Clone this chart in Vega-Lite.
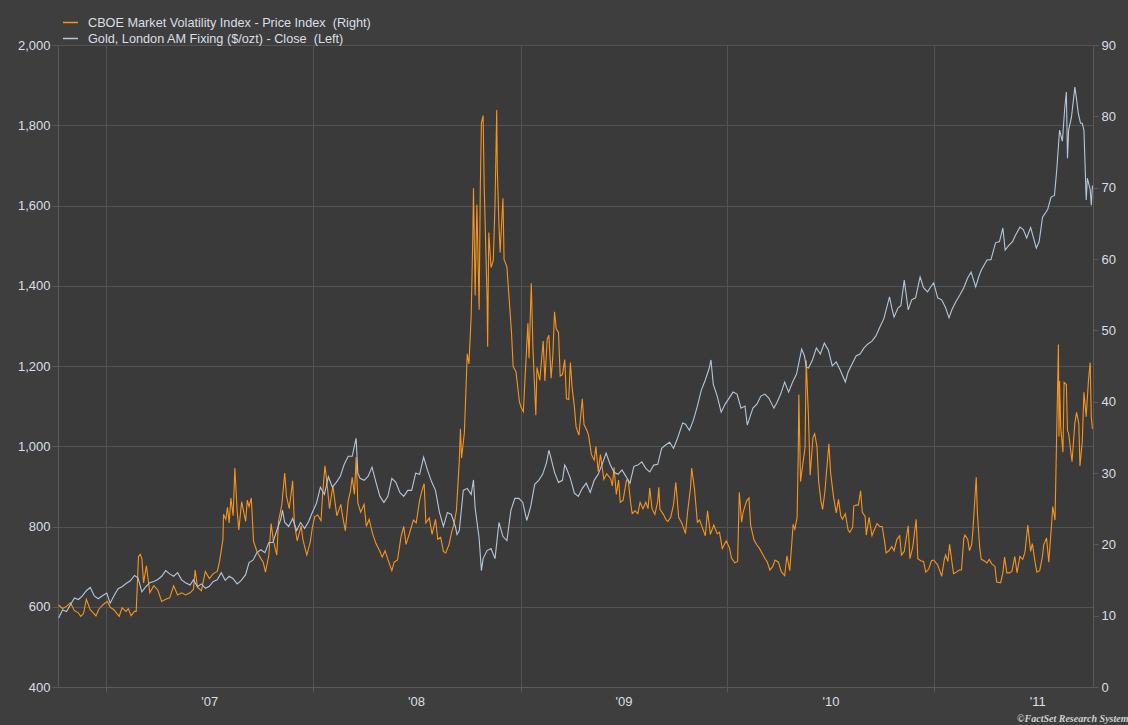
{
"$schema": "https://vega.github.io/schema/vega-lite/v6.json",
"width": 1035,
"height": 642,
"autosize": {"type": "none"},
"padding": {"left": 58, "top": 45, "right": 35, "bottom": 38},
"background": "#3e3e3e",
"config": {
  "view": {"fill": "#3a3a3a", "stroke": null},
  "font": "Liberation Sans",
  "axis": {"labelColor": "#dadfe6", "labelFontSize": 13, "title": null, "gridColor": "#535353", "tickColor": "#5a5a5a", "domainColor": "#5a5a5a", "labelFont": "Liberation Sans"}
},
"title": {"text": "©FactSet Research System", "orient": "bottom", "anchor": "end", "font": "Liberation Serif", "fontSize": 10, "fontStyle": "italic", "fontWeight": "bold", "color": "#d0d0d0", "offset": 6, "dx": 13},
"datasets": {
"vix": [
{"date":"2006-10-09","value":11.5},{"date":"2006-10-16","value":11.0},{"date":"2006-10-23","value":11.3},{"date":"2006-10-30","value":11.8},{"date":"2006-11-06","value":10.7},{"date":"2006-11-13","value":10.4},{"date":"2006-11-17","value":9.9},{"date":"2006-11-22","value":10.3},{"date":"2006-11-27","value":12.3},{"date":"2006-12-04","value":10.8},{"date":"2006-12-08","value":10.5},{"date":"2006-12-14","value":9.97},{"date":"2006-12-19","value":10.9},{"date":"2006-12-26","value":11.5},{"date":"2007-01-03","value":12.0},{"date":"2007-01-08","value":11.2},{"date":"2007-01-15","value":10.8},{"date":"2007-01-19","value":10.4},{"date":"2007-01-24","value":9.9},{"date":"2007-01-29","value":11.1},{"date":"2007-02-05","value":10.6},{"date":"2007-02-09","value":11.0},{"date":"2007-02-14","value":10.0},{"date":"2007-02-20","value":10.6},{"date":"2007-02-23","value":10.6},{"date":"2007-02-27","value":18.3},{"date":"2007-03-02","value":18.6},{"date":"2007-03-05","value":18.0},{"date":"2007-03-08","value":14.6},{"date":"2007-03-13","value":17.0},{"date":"2007-03-19","value":13.2},{"date":"2007-03-26","value":14.2},{"date":"2007-04-02","value":13.6},{"date":"2007-04-09","value":12.0},{"date":"2007-04-16","value":12.3},{"date":"2007-04-23","value":12.5},{"date":"2007-04-30","value":14.2},{"date":"2007-05-07","value":12.9},{"date":"2007-05-14","value":13.2},{"date":"2007-05-21","value":12.9},{"date":"2007-05-29","value":13.2},{"date":"2007-06-04","value":13.7},{"date":"2007-06-07","value":16.4},{"date":"2007-06-11","value":14.0},{"date":"2007-06-18","value":13.5},{"date":"2007-06-25","value":16.2},{"date":"2007-07-02","value":15.2},{"date":"2007-07-09","value":15.9},{"date":"2007-07-16","value":16.2},{"date":"2007-07-20","value":17.6},{"date":"2007-07-26","value":20.7},{"date":"2007-07-27","value":24.2},{"date":"2007-07-31","value":23.5},{"date":"2007-08-03","value":25.2},{"date":"2007-08-06","value":23.0},{"date":"2007-08-09","value":26.5},{"date":"2007-08-13","value":24.0},{"date":"2007-08-16","value":30.7},{"date":"2007-08-20","value":24.8},{"date":"2007-08-23","value":22.0},{"date":"2007-08-28","value":26.0},{"date":"2007-09-04","value":23.2},{"date":"2007-09-07","value":26.2},{"date":"2007-09-10","value":25.3},{"date":"2007-09-14","value":26.5},{"date":"2007-09-18","value":20.4},{"date":"2007-09-24","value":19.0},{"date":"2007-10-01","value":18.0},{"date":"2007-10-05","value":17.5},{"date":"2007-10-09","value":16.1},{"date":"2007-10-15","value":18.5},{"date":"2007-10-19","value":22.9},{"date":"2007-10-23","value":20.5},{"date":"2007-10-29","value":18.5},{"date":"2007-11-01","value":23.2},{"date":"2007-11-07","value":25.6},{"date":"2007-11-12","value":30.0},{"date":"2007-11-15","value":26.8},{"date":"2007-11-20","value":25.0},{"date":"2007-11-26","value":28.9},{"date":"2007-11-29","value":22.9},{"date":"2007-12-04","value":20.5},{"date":"2007-12-11","value":22.6},{"date":"2007-12-14","value":20.7},{"date":"2007-12-21","value":18.5},{"date":"2007-12-27","value":20.3},{"date":"2007-12-31","value":22.5},
{"date":"2008-01-04","value":23.9},{"date":"2008-01-09","value":24.1},{"date":"2008-01-15","value":23.3},{"date":"2008-01-18","value":27.2},{"date":"2008-01-22","value":31.0},{"date":"2008-01-25","value":29.0},{"date":"2008-01-30","value":25.0},{"date":"2008-02-05","value":28.2},{"date":"2008-02-08","value":26.3},{"date":"2008-02-12","value":24.0},{"date":"2008-02-19","value":25.6},{"date":"2008-02-22","value":24.0},{"date":"2008-02-27","value":21.9},{"date":"2008-03-03","value":26.1},{"date":"2008-03-07","value":27.5},{"date":"2008-03-10","value":29.4},{"date":"2008-03-14","value":27.0},{"date":"2008-03-17","value":32.2},{"date":"2008-03-20","value":25.8},{"date":"2008-03-25","value":24.5},{"date":"2008-03-31","value":25.6},{"date":"2008-04-04","value":22.5},{"date":"2008-04-09","value":23.5},{"date":"2008-04-15","value":21.5},{"date":"2008-04-21","value":20.1},{"date":"2008-04-28","value":19.0},{"date":"2008-05-02","value":18.2},{"date":"2008-05-07","value":19.1},{"date":"2008-05-12","value":17.9},{"date":"2008-05-19","value":16.3},{"date":"2008-05-23","value":17.5},{"date":"2008-05-29","value":17.8},{"date":"2008-06-04","value":21.0},{"date":"2008-06-09","value":22.5},{"date":"2008-06-13","value":20.0},{"date":"2008-06-19","value":21.5},{"date":"2008-06-26","value":23.4},{"date":"2008-07-01","value":23.0},{"date":"2008-07-07","value":26.2},{"date":"2008-07-11","value":27.5},{"date":"2008-07-15","value":28.5},{"date":"2008-07-18","value":23.0},{"date":"2008-07-24","value":23.7},{"date":"2008-07-29","value":21.4},{"date":"2008-08-04","value":23.5},{"date":"2008-08-08","value":20.7},{"date":"2008-08-13","value":21.0},{"date":"2008-08-18","value":19.0},{"date":"2008-08-22","value":18.8},{"date":"2008-08-28","value":20.0},{"date":"2008-09-02","value":21.9},{"date":"2008-09-05","value":22.6},{"date":"2008-09-10","value":24.8},{"date":"2008-09-15","value":31.7},{"date":"2008-09-17","value":36.2},{"date":"2008-09-19","value":32.1},{"date":"2008-09-24","value":35.7},{"date":"2008-09-29","value":46.7},{"date":"2008-10-02","value":45.3},{"date":"2008-10-06","value":52.1},{"date":"2008-10-09","value":63.9},{"date":"2008-10-10","value":69.9},{"date":"2008-10-13","value":54.9},{"date":"2008-10-16","value":67.6},{"date":"2008-10-20","value":52.9},{"date":"2008-10-22","value":69.6},{"date":"2008-10-24","value":79.1},{"date":"2008-10-27","value":80.1},{"date":"2008-10-29","value":69.9},{"date":"2008-11-03","value":54.5},{"date":"2008-11-04","value":47.7},{"date":"2008-11-06","value":63.7},{"date":"2008-11-10","value":58.8},{"date":"2008-11-14","value":59.8},{"date":"2008-11-17","value":67.6},{"date":"2008-11-20","value":80.9},{"date":"2008-11-21","value":72.7},{"date":"2008-11-24","value":64.7},{"date":"2008-11-26","value":60.9},{"date":"2008-12-01","value":68.5},{"date":"2008-12-03","value":59.9},{"date":"2008-12-08","value":58.9},{"date":"2008-12-12","value":54.3},{"date":"2008-12-16","value":49.8},{"date":"2008-12-19","value":44.9},{"date":"2008-12-24","value":44.2},{"date":"2008-12-30","value":40.0},
{"date":"2009-01-02","value":39.2},{"date":"2009-01-06","value":38.6},{"date":"2009-01-09","value":43.3},{"date":"2009-01-14","value":51.0},{"date":"2009-01-16","value":46.1},{"date":"2009-01-20","value":56.6},{"date":"2009-01-23","value":47.3},{"date":"2009-01-28","value":38.1},{"date":"2009-01-30","value":44.8},{"date":"2009-02-04","value":43.0},{"date":"2009-02-10","value":48.5},{"date":"2009-02-13","value":42.9},{"date":"2009-02-17","value":48.7},{"date":"2009-02-20","value":49.3},{"date":"2009-02-24","value":43.3},{"date":"2009-02-27","value":46.4},{"date":"2009-03-02","value":52.6},{"date":"2009-03-05","value":50.2},{"date":"2009-03-09","value":49.7},{"date":"2009-03-12","value":43.6},{"date":"2009-03-16","value":43.8},{"date":"2009-03-20","value":45.9},{"date":"2009-03-23","value":40.4},{"date":"2009-03-27","value":40.3},{"date":"2009-03-30","value":45.5},{"date":"2009-04-02","value":42.0},{"date":"2009-04-06","value":39.3},{"date":"2009-04-09","value":36.5},{"date":"2009-04-14","value":35.3},{"date":"2009-04-20","value":40.4},{"date":"2009-04-23","value":36.8},{"date":"2009-04-28","value":36.0},{"date":"2009-05-01","value":35.3},{"date":"2009-05-06","value":32.6},{"date":"2009-05-11","value":31.8},{"date":"2009-05-14","value":33.7},{"date":"2009-05-18","value":30.2},{"date":"2009-05-22","value":32.6},{"date":"2009-05-28","value":29.1},{"date":"2009-06-02","value":29.9},{"date":"2009-06-05","value":29.6},{"date":"2009-06-09","value":29.2},{"date":"2009-06-12","value":28.2},{"date":"2009-06-15","value":30.8},{"date":"2009-06-19","value":27.0},{"date":"2009-06-23","value":29.0},{"date":"2009-06-26","value":25.9},{"date":"2009-07-01","value":26.2},{"date":"2009-07-07","value":29.0},{"date":"2009-07-10","value":29.0},{"date":"2009-07-14","value":26.0},{"date":"2009-07-17","value":24.3},{"date":"2009-07-22","value":24.7},{"date":"2009-07-27","value":24.3},{"date":"2009-07-31","value":25.9},{"date":"2009-08-05","value":25.0},{"date":"2009-08-10","value":25.9},{"date":"2009-08-14","value":25.0},{"date":"2009-08-17","value":27.9},{"date":"2009-08-21","value":25.0},{"date":"2009-08-26","value":24.2},{"date":"2009-08-31","value":26.0},{"date":"2009-09-02","value":28.0},{"date":"2009-09-04","value":24.9},{"date":"2009-09-10","value":24.2},{"date":"2009-09-15","value":23.4},{"date":"2009-09-18","value":23.2},{"date":"2009-09-23","value":23.8},{"date":"2009-09-28","value":25.6},{"date":"2009-10-02","value":28.7},{"date":"2009-10-07","value":23.8},{"date":"2009-10-13","value":22.9},{"date":"2009-10-19","value":21.5},{"date":"2009-10-23","value":24.7},{"date":"2009-10-28","value":28.0},{"date":"2009-10-30","value":30.7},{"date":"2009-11-04","value":27.7},{"date":"2009-11-09","value":23.1},{"date":"2009-11-13","value":23.4},{"date":"2009-11-18","value":22.3},{"date":"2009-11-23","value":21.2},{"date":"2009-11-27","value":24.7},{"date":"2009-12-02","value":21.4},{"date":"2009-12-08","value":22.7},{"date":"2009-12-14","value":21.5},{"date":"2009-12-18","value":21.7},{"date":"2009-12-23","value":19.4},{"date":"2009-12-30","value":20.5},
{"date":"2010-01-05","value":19.4},{"date":"2010-01-08","value":18.1},{"date":"2010-01-14","value":17.4},{"date":"2010-01-19","value":17.6},{"date":"2010-01-22","value":27.3},{"date":"2010-01-26","value":23.1},{"date":"2010-01-29","value":24.6},{"date":"2010-02-04","value":26.1},{"date":"2010-02-08","value":26.5},{"date":"2010-02-11","value":22.7},{"date":"2010-02-17","value":20.6},{"date":"2010-02-22","value":19.9},{"date":"2010-02-26","value":19.5},{"date":"2010-03-03","value":18.8},{"date":"2010-03-09","value":17.9},{"date":"2010-03-12","value":17.6},{"date":"2010-03-17","value":16.4},{"date":"2010-03-22","value":16.9},{"date":"2010-03-26","value":17.8},{"date":"2010-04-01","value":17.5},{"date":"2010-04-06","value":16.2},{"date":"2010-04-12","value":15.6},{"date":"2010-04-16","value":18.4},{"date":"2010-04-21","value":16.3},{"date":"2010-04-27","value":22.8},{"date":"2010-04-30","value":22.1},{"date":"2010-05-04","value":23.8},{"date":"2010-05-06","value":32.8},{"date":"2010-05-07","value":41.0},{"date":"2010-05-10","value":28.8},{"date":"2010-05-14","value":31.2},{"date":"2010-05-18","value":33.6},{"date":"2010-05-20","value":45.8},{"date":"2010-05-24","value":37.9},{"date":"2010-05-27","value":29.7},{"date":"2010-06-01","value":35.0},{"date":"2010-06-04","value":35.5},{"date":"2010-06-08","value":33.7},{"date":"2010-06-11","value":28.8},{"date":"2010-06-15","value":26.1},{"date":"2010-06-18","value":24.9},{"date":"2010-06-22","value":27.4},{"date":"2010-06-29","value":34.1},{"date":"2010-07-02","value":30.1},{"date":"2010-07-07","value":26.8},{"date":"2010-07-12","value":24.4},{"date":"2010-07-16","value":26.3},{"date":"2010-07-20","value":24.0},{"date":"2010-07-23","value":23.5},{"date":"2010-07-28","value":24.3},{"date":"2010-08-02","value":22.0},{"date":"2010-08-05","value":21.7},{"date":"2010-08-10","value":22.4},{"date":"2010-08-12","value":25.4},{"date":"2010-08-16","value":25.5},{"date":"2010-08-20","value":25.5},{"date":"2010-08-24","value":27.5},{"date":"2010-08-27","value":24.5},{"date":"2010-09-01","value":23.9},{"date":"2010-09-03","value":21.3},{"date":"2010-09-08","value":23.8},{"date":"2010-09-13","value":21.2},{"date":"2010-09-17","value":22.0},{"date":"2010-09-22","value":22.9},{"date":"2010-09-27","value":22.5},{"date":"2010-10-01","value":22.5},{"date":"2010-10-05","value":20.6},{"date":"2010-10-08","value":18.8},{"date":"2010-10-13","value":19.1},{"date":"2010-10-18","value":19.7},{"date":"2010-10-22","value":19.1},{"date":"2010-10-27","value":20.7},{"date":"2010-11-01","value":21.2},{"date":"2010-11-04","value":18.5},{"date":"2010-11-09","value":19.0},{"date":"2010-11-12","value":20.6},{"date":"2010-11-16","value":22.6},{"date":"2010-11-19","value":18.0},{"date":"2010-11-24","value":19.6},{"date":"2010-11-30","value":23.5},{"date":"2010-12-03","value":18.0},{"date":"2010-12-08","value":17.7},{"date":"2010-12-13","value":17.6},{"date":"2010-12-17","value":16.1},{"date":"2010-12-22","value":16.5},{"date":"2010-12-27","value":17.7},{"date":"2010-12-31","value":17.8},
{"date":"2011-01-04","value":17.4},{"date":"2011-01-07","value":17.1},{"date":"2011-01-12","value":16.0},{"date":"2011-01-14","value":15.5},{"date":"2011-01-19","value":18.0},{"date":"2011-01-21","value":18.5},{"date":"2011-01-25","value":17.6},{"date":"2011-01-28","value":20.0},{"date":"2011-02-01","value":17.6},{"date":"2011-02-04","value":15.9},{"date":"2011-02-09","value":16.1},{"date":"2011-02-14","value":16.4},{"date":"2011-02-18","value":16.4},{"date":"2011-02-22","value":20.8},{"date":"2011-02-24","value":21.3},{"date":"2011-03-01","value":20.7},{"date":"2011-03-04","value":19.1},{"date":"2011-03-08","value":20.0},{"date":"2011-03-10","value":21.8},{"date":"2011-03-16","value":29.4},{"date":"2011-03-18","value":24.4},{"date":"2011-03-22","value":19.6},{"date":"2011-03-25","value":17.9},{"date":"2011-03-30","value":17.7},{"date":"2011-04-04","value":17.4},{"date":"2011-04-08","value":17.9},{"date":"2011-04-12","value":17.3},{"date":"2011-04-18","value":16.9},{"date":"2011-04-21","value":14.7},{"date":"2011-04-28","value":14.6},{"date":"2011-05-02","value":16.0},{"date":"2011-05-05","value":18.2},{"date":"2011-05-09","value":16.0},{"date":"2011-05-13","value":16.0},{"date":"2011-05-18","value":16.2},{"date":"2011-05-23","value":18.3},{"date":"2011-05-27","value":16.0},{"date":"2011-06-01","value":18.3},{"date":"2011-06-06","value":17.9},{"date":"2011-06-10","value":18.9},{"date":"2011-06-15","value":22.7},{"date":"2011-06-20","value":19.0},{"date":"2011-06-23","value":20.1},{"date":"2011-06-28","value":17.4},{"date":"2011-07-01","value":16.1},{"date":"2011-07-06","value":16.3},{"date":"2011-07-11","value":18.4},{"date":"2011-07-13","value":19.9},{"date":"2011-07-18","value":20.9},{"date":"2011-07-22","value":17.5},{"date":"2011-07-27","value":22.9},{"date":"2011-07-29","value":25.3},{"date":"2011-08-02","value":23.4},{"date":"2011-08-04","value":31.7},{"date":"2011-08-08","value":48.0},{"date":"2011-08-09","value":35.1},{"date":"2011-08-10","value":42.9},{"date":"2011-08-12","value":36.4},{"date":"2011-08-16","value":32.9},{"date":"2011-08-18","value":42.7},{"date":"2011-08-22","value":42.4},{"date":"2011-08-24","value":35.9},{"date":"2011-08-26","value":35.6},{"date":"2011-08-30","value":32.9},{"date":"2011-09-01","value":31.6},{"date":"2011-09-06","value":37.0},{"date":"2011-09-09","value":38.5},{"date":"2011-09-13","value":36.9},{"date":"2011-09-15","value":31.0},{"date":"2011-09-19","value":34.3},{"date":"2011-09-22","value":41.3},{"date":"2011-09-26","value":37.9},{"date":"2011-09-30","value":43.0},{"date":"2011-10-03","value":45.5},{"date":"2011-10-05","value":37.8},{"date":"2011-10-07","value":36.2}
],
"gold": [
{"date":"2006-10-09","value":572},{"date":"2006-10-16","value":592},{"date":"2006-10-23","value":588},{"date":"2006-10-30","value":605},{"date":"2006-11-06","value":622},{"date":"2006-11-13","value":618},{"date":"2006-11-20","value":627},{"date":"2006-11-27","value":640},{"date":"2006-12-04","value":648},{"date":"2006-12-11","value":627},{"date":"2006-12-18","value":620},{"date":"2006-12-26","value":628},{"date":"2007-01-02","value":634},{"date":"2007-01-08","value":609},{"date":"2007-01-15","value":628},{"date":"2007-01-22","value":645},{"date":"2007-01-29","value":650},{"date":"2007-02-05","value":658},{"date":"2007-02-12","value":664},{"date":"2007-02-20","value":678},{"date":"2007-02-26","value":672},{"date":"2007-03-05","value":637},{"date":"2007-03-12","value":650},{"date":"2007-03-19","value":660},{"date":"2007-03-26","value":663},{"date":"2007-04-02","value":668},{"date":"2007-04-09","value":676},{"date":"2007-04-16","value":690},{"date":"2007-04-23","value":682},{"date":"2007-04-30","value":676},{"date":"2007-05-07","value":685},{"date":"2007-05-14","value":667},{"date":"2007-05-21","value":660},{"date":"2007-05-29","value":654},{"date":"2007-06-04","value":667},{"date":"2007-06-11","value":650},{"date":"2007-06-18","value":657},{"date":"2007-06-25","value":646},{"date":"2007-07-02","value":651},{"date":"2007-07-09","value":663},{"date":"2007-07-16","value":667},{"date":"2007-07-23","value":685},{"date":"2007-07-30","value":666},{"date":"2007-08-06","value":676},{"date":"2007-08-13","value":670},{"date":"2007-08-20","value":657},{"date":"2007-08-27","value":665},{"date":"2007-09-04","value":680},{"date":"2007-09-10","value":710},{"date":"2007-09-17","value":716},{"date":"2007-09-24","value":735},{"date":"2007-10-01","value":742},{"date":"2007-10-08","value":735},{"date":"2007-10-15","value":760},{"date":"2007-10-22","value":760},{"date":"2007-10-29","value":790},{"date":"2007-11-05","value":818},{"date":"2007-11-08","value":841},{"date":"2007-11-12","value":810},{"date":"2007-11-19","value":800},{"date":"2007-11-26","value":820},{"date":"2007-12-03","value":790},{"date":"2007-12-10","value":810},{"date":"2007-12-17","value":795},{"date":"2007-12-24","value":812},{"date":"2007-12-31","value":836},
{"date":"2008-01-07","value":858},{"date":"2008-01-14","value":898},{"date":"2008-01-21","value":880},{"date":"2008-01-28","value":924},{"date":"2008-02-04","value":898},{"date":"2008-02-11","value":910},{"date":"2008-02-18","value":925},{"date":"2008-02-25","value":955},{"date":"2008-03-03","value":975},{"date":"2008-03-10","value":975},{"date":"2008-03-17","value":1020},{"date":"2008-03-20","value":933},{"date":"2008-03-24","value":920},{"date":"2008-03-31","value":915},{"date":"2008-04-07","value":925},{"date":"2008-04-14","value":948},{"date":"2008-04-21","value":910},{"date":"2008-04-28","value":875},{"date":"2008-05-05","value":860},{"date":"2008-05-12","value":875},{"date":"2008-05-19","value":920},{"date":"2008-05-26","value":910},{"date":"2008-06-02","value":885},{"date":"2008-06-09","value":875},{"date":"2008-06-16","value":890},{"date":"2008-06-23","value":890},{"date":"2008-06-30","value":933},{"date":"2008-07-07","value":930},{"date":"2008-07-14","value":973},{"date":"2008-07-21","value":940},{"date":"2008-07-28","value":912},{"date":"2008-08-04","value":890},{"date":"2008-08-11","value":835},{"date":"2008-08-18","value":800},{"date":"2008-08-25","value":835},{"date":"2008-09-01","value":830},{"date":"2008-09-08","value":800},{"date":"2008-09-11","value":780},{"date":"2008-09-15","value":790},{"date":"2008-09-22","value":890},{"date":"2008-09-29","value":895},{"date":"2008-10-06","value":880},{"date":"2008-10-10","value":916},{"date":"2008-10-13","value":845},{"date":"2008-10-20","value":770},{"date":"2008-10-24","value":690},{"date":"2008-10-27","value":720},{"date":"2008-11-03","value":740},{"date":"2008-11-10","value":745},{"date":"2008-11-17","value":720},{"date":"2008-11-24","value":810},{"date":"2008-12-01","value":775},{"date":"2008-12-08","value":765},{"date":"2008-12-15","value":840},{"date":"2008-12-22","value":870},{"date":"2008-12-29","value":870},
{"date":"2009-01-05","value":860},{"date":"2009-01-12","value":815},{"date":"2009-01-19","value":850},{"date":"2009-01-26","value":905},{"date":"2009-02-02","value":915},{"date":"2009-02-09","value":930},{"date":"2009-02-16","value":960},{"date":"2009-02-20","value":990},{"date":"2009-02-23","value":975},{"date":"2009-03-02","value":935},{"date":"2009-03-09","value":910},{"date":"2009-03-16","value":915},{"date":"2009-03-20","value":953},{"date":"2009-03-23","value":945},{"date":"2009-03-30","value":920},{"date":"2009-04-06","value":883},{"date":"2009-04-13","value":875},{"date":"2009-04-20","value":895},{"date":"2009-04-27","value":908},{"date":"2009-05-04","value":885},{"date":"2009-05-11","value":915},{"date":"2009-05-18","value":930},{"date":"2009-05-25","value":955},{"date":"2009-06-01","value":983},{"date":"2009-06-08","value":955},{"date":"2009-06-15","value":935},{"date":"2009-06-22","value":930},{"date":"2009-06-29","value":941},{"date":"2009-07-06","value":925},{"date":"2009-07-13","value":908},{"date":"2009-07-20","value":950},{"date":"2009-07-27","value":953},{"date":"2009-08-03","value":961},{"date":"2009-08-10","value":945},{"date":"2009-08-17","value":936},{"date":"2009-08-24","value":953},{"date":"2009-08-31","value":955},{"date":"2009-09-07","value":995},{"date":"2009-09-14","value":1003},{"date":"2009-09-21","value":1010},{"date":"2009-09-28","value":995},{"date":"2009-10-05","value":1020},{"date":"2009-10-14","value":1058},{"date":"2009-10-19","value":1055},{"date":"2009-10-26","value":1040},{"date":"2009-11-02","value":1065},{"date":"2009-11-09","value":1100},{"date":"2009-11-16","value":1140},{"date":"2009-11-23","value":1165},{"date":"2009-11-30","value":1195},{"date":"2009-12-03","value":1215},{"date":"2009-12-07","value":1155},{"date":"2009-12-14","value":1125},{"date":"2009-12-21","value":1085},{"date":"2009-12-28","value":1105},
{"date":"2010-01-04","value":1120},{"date":"2010-01-11","value":1135},{"date":"2010-01-18","value":1130},{"date":"2010-01-25","value":1095},{"date":"2010-02-01","value":1100},{"date":"2010-02-05","value":1053},{"date":"2010-02-08","value":1065},{"date":"2010-02-15","value":1095},{"date":"2010-02-22","value":1105},{"date":"2010-03-01","value":1125},{"date":"2010-03-08","value":1130},{"date":"2010-03-15","value":1120},{"date":"2010-03-24","value":1095},{"date":"2010-03-29","value":1108},{"date":"2010-04-05","value":1130},{"date":"2010-04-12","value":1160},{"date":"2010-04-19","value":1135},{"date":"2010-04-26","value":1160},{"date":"2010-05-03","value":1180},{"date":"2010-05-12","value":1242},{"date":"2010-05-17","value":1225},{"date":"2010-05-20","value":1197},{"date":"2010-05-24","value":1195},{"date":"2010-05-31","value":1215},{"date":"2010-06-07","value":1245},{"date":"2010-06-14","value":1230},{"date":"2010-06-21","value":1257},{"date":"2010-06-28","value":1240},{"date":"2010-07-05","value":1200},{"date":"2010-07-12","value":1210},{"date":"2010-07-19","value":1190},{"date":"2010-07-28","value":1160},{"date":"2010-08-02","value":1185},{"date":"2010-08-09","value":1205},{"date":"2010-08-16","value":1225},{"date":"2010-08-23","value":1230},{"date":"2010-08-30","value":1245},{"date":"2010-09-06","value":1255},{"date":"2010-09-13","value":1262},{"date":"2010-09-20","value":1275},{"date":"2010-09-27","value":1297},{"date":"2010-10-04","value":1318},{"date":"2010-10-14","value":1372},{"date":"2010-10-18","value":1345},{"date":"2010-10-22","value":1322},{"date":"2010-10-29","value":1345},{"date":"2010-11-03","value":1350},{"date":"2010-11-09","value":1414},{"date":"2010-11-16","value":1340},{"date":"2010-11-22","value":1365},{"date":"2010-11-29","value":1370},{"date":"2010-12-07","value":1422},{"date":"2010-12-13","value":1395},{"date":"2010-12-20","value":1385},{"date":"2010-12-27","value":1400},{"date":"2010-12-31","value":1407},
{"date":"2011-01-07","value":1370},{"date":"2011-01-14","value":1365},{"date":"2011-01-21","value":1345},{"date":"2011-01-27","value":1320},{"date":"2011-02-01","value":1340},{"date":"2011-02-08","value":1360},{"date":"2011-02-15","value":1377},{"date":"2011-02-22","value":1395},{"date":"2011-03-01","value":1420},{"date":"2011-03-07","value":1434},{"date":"2011-03-15","value":1397},{"date":"2011-03-21","value":1425},{"date":"2011-03-25","value":1439},{"date":"2011-04-04","value":1464},{"date":"2011-04-11","value":1465},{"date":"2011-04-19","value":1507},{"date":"2011-04-26","value":1510},{"date":"2011-05-02","value":1544},{"date":"2011-05-06","value":1489},{"date":"2011-05-12","value":1500},{"date":"2011-05-19","value":1510},{"date":"2011-05-24","value":1525},{"date":"2011-06-01","value":1546},{"date":"2011-06-07","value":1540},{"date":"2011-06-13","value":1519},{"date":"2011-06-20","value":1545},{"date":"2011-06-30","value":1494},{"date":"2011-07-05","value":1510},{"date":"2011-07-11","value":1571},{"date":"2011-07-20","value":1590},{"date":"2011-07-26","value":1621},{"date":"2011-08-01","value":1625},{"date":"2011-08-05","value":1688},{"date":"2011-08-10","value":1788},{"date":"2011-08-15","value":1760},{"date":"2011-08-19","value":1840},{"date":"2011-08-22","value":1883},{"date":"2011-08-24","value":1718},{"date":"2011-08-26","value":1788},{"date":"2011-08-31","value":1820},{"date":"2011-09-06","value":1895},{"date":"2011-09-09","value":1865},{"date":"2011-09-12","value":1830},{"date":"2011-09-16","value":1805},{"date":"2011-09-19","value":1805},{"date":"2011-09-22","value":1788},{"date":"2011-09-26","value":1614},{"date":"2011-09-28","value":1668},{"date":"2011-10-03","value":1640},{"date":"2011-10-05","value":1601},{"date":"2011-10-07","value":1650}
]
},
"layer": [
{
  "data": {"name": "vix"},
  "mark": {"type": "line", "strokeWidth": 1.1},
  "encoding": {
    "x": {"field": "date", "type": "temporal",
      "scale": {"domain": [{"year": 2006, "month": 10, "date": 8}, {"year": 2011, "month": 10, "date": 8}]},
      "axis": {"orient": "bottom", "values": [{"year": 2007, "month": 1, "date": 1}, {"year": 2008, "month": 1, "date": 1}, {"year": 2009, "month": 1, "date": 1}, {"year": 2010, "month": 1, "date": 1}, {"year": 2011, "month": 1, "date": 1}],
        "format": "'%y", "labelOffset": 103, "labelFlush": false, "labelOverlap": false, "grid": true, "domain": true, "tickSize": 5, "labelPadding": 3}},
    "y": {"field": "value", "type": "quantitative",
      "scale": {"domain": [0, 90], "nice": false, "zero": false},
      "axis": {"orient": "right", "values": [0, 10, 20, 30, 40, 50, 60, 70, 80, 90], "format": "d", "grid": false, "domain": true, "tickSize": 5, "labelPadding": 3}},
    "color": {"datum": "CBOE Market Volatility Index - Price Index \u00a0(Right)", "type": "nominal",
      "scale": {"domain": ["CBOE Market Volatility Index - Price Index \u00a0(Right)", "Gold, London AM Fixing ($/ozt) - Close \u00a0(Left)"], "range": ["#f7941d", "#b3c6da"]},
      "legend": {"title": null, "orient": "none", "legendX": 4, "legendY": -31, "symbolType": "stroke", "symbolSize": 225, "symbolStrokeWidth": 1.5, "labelFontSize": 12.7, "labelLimit": 0, "labelColor": "#dadfe6", "rowPadding": 0, "labelOffset": 9, "direction": "vertical"}}
  }
},
{
  "data": {"name": "gold"},
  "mark": {"type": "line", "strokeWidth": 1.1},
  "encoding": {
    "x": {"field": "date", "type": "temporal"},
    "y": {"field": "value", "type": "quantitative",
      "scale": {"domain": [400, 2000], "nice": false, "zero": false},
      "axis": {"orient": "left", "values": [400, 600, 800, 1000, 1200, 1400, 1600, 1800, 2000], "format": ",d", "grid": true, "domain": true, "tickSize": 6, "labelPadding": 2}},
    "color": {"datum": "Gold, London AM Fixing ($/ozt) - Close \u00a0(Left)", "type": "nominal"}
  }
}
],
"resolve": {"scale": {"y": "independent"}}
}
